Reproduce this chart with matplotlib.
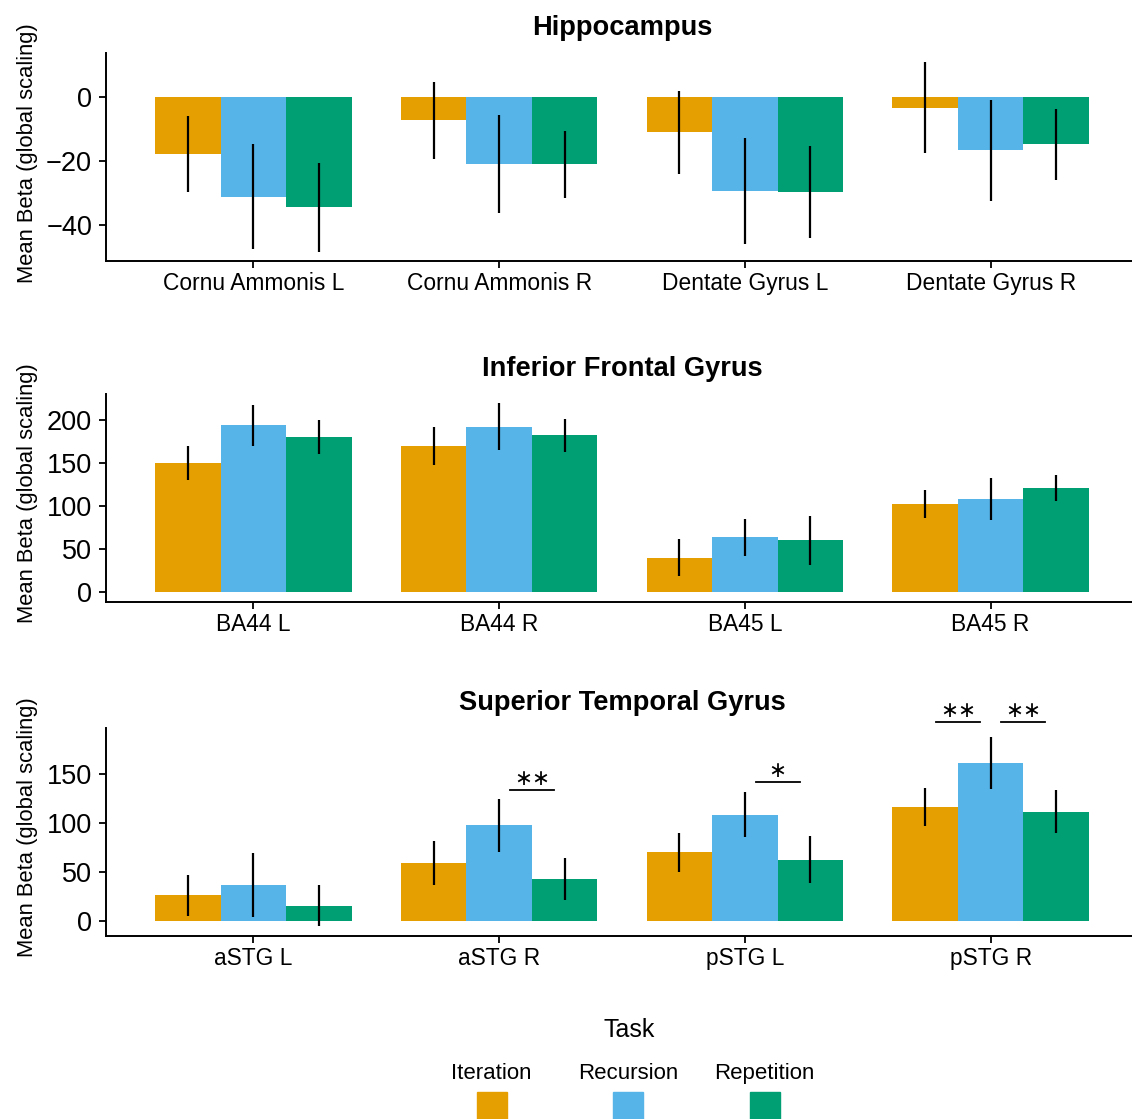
import numpy as np
import matplotlib
matplotlib.use("Agg")
import matplotlib.pyplot as plt
from matplotlib.patches import Rectangle

plt.rcParams['font.family'] = ['Liberation Sans', 'DejaVu Sans']

tasks = ["Iteration", "Recursion", "Repetition"]
task_colors = ["#E69F00", "#56B4E9", "#009E73"]

# Hippocampus
hip_regions = ["Cornu Ammonis L", "Cornu Ammonis R", "Dentate Gyrus L", "Dentate Gyrus R"]
hip_iter = [-17.7, -7.2, -11.0, -3.2]
hip_rec = [-31.2, -21.0, -29.5, -16.7]
hip_rep = [-34.6, -21.0, -29.8, -14.8]
hip_iter_err = [12.0, 12.1, 13.0, 14.2]
hip_rec_err = [16.4, 15.4, 16.6, 15.8]
hip_rep_err = [13.9, 10.5, 14.5, 11.2]

# Inferior frontal gyrus
ifg_regions = ["BA44 L", "BA44 R", "BA45 L", "BA45 R"]
ifg_iter = [150.0, 169.4, 40.2, 102.5]
ifg_rec = [193.4, 192.0, 63.6, 107.6]
ifg_rep = [180.0, 181.9, 60.0, 120.9]
ifg_iter_err = [19.7, 22.3, 21.3, 16.3]
ifg_rec_err = [23.5, 27.1, 21.5, 24.2]
ifg_rep_err = [19.8, 19.0, 27.9, 15.1]

# Superior temporal gyrus
stg_regions = ["aSTG L", "aSTG R", "pSTG L", "pSTG R"]
stg_iter = [25.7, 58.6, 69.7, 116.0]
stg_rec = [36.6, 97.4, 108.4, 161.1]
stg_rep = [15.4, 42.4, 62.4, 111.2]
stg_iter_err = [20.7, 22.5, 20.3, 19.7]
stg_rec_err = [32.8, 27.4, 23.3, 26.5]
stg_rep_err = [21.2, 21.2, 23.9, 21.9]

# significance brackets in the STG panel
sig_region = [1, 2, 3, 3]
sig_from = [1, 1, 0, 1]
sig_to = [2, 2, 1, 2]
sig_y = [133.6, 142.1, 203.0, 203.0]
sig_labels = ["**", "*", "**", "**"]

panels = [
    ("Hippocampus", hip_regions, [hip_iter, hip_rec, hip_rep],
     [hip_iter_err, hip_rec_err, hip_rep_err], [-40, -20, 0]),
    ("Inferior Frontal Gyrus", ifg_regions, [ifg_iter, ifg_rec, ifg_rep],
     [ifg_iter_err, ifg_rec_err, ifg_rep_err], [0, 50, 100, 150, 200]),
    ("Superior Temporal Gyrus", stg_regions, [stg_iter, stg_rec, stg_rep],
     [stg_iter_err, stg_rec_err, stg_rep_err], [0, 50, 100, 150]),
]

W, H = 1132, 1119
fig = plt.figure(figsize=(W / 100, H / 100), dpi=100)

bar_w = 0.8 / 3
offsets = (np.arange(3) - 1) * bar_w
panel_bottoms = [261, 601.7, 935.7]
panel_h = 208

axes = []
for (title, regions, means, errs, yticks), pb in zip(panels, panel_bottoms):
    ax = fig.add_axes([106 / W, 1 - pb / H, 1032 / W, panel_h / H])
    x = np.arange(1, len(regions) + 1)
    lo, hi = 0.0, 0.0
    for i in range(3):
        m = np.array(means[i])
        e = np.array(errs[i])
        ax.bar(x + offsets[i], m, width=bar_w, color=task_colors[i], linewidth=0)
        ax.errorbar(x + offsets[i], m, yerr=e, fmt='none', ecolor='black',
                    elinewidth=1.6, capsize=0, zorder=3)
        lo = min(lo, (m - e).min())
        hi = max(hi, (m + e).max())
    pad = 0.05 * (hi - lo)
    ax.set_ylim(lo - pad, hi + pad)
    ax.set_xlim(0.4, len(regions) + 0.6)
    ax.set_xticks(x)
    ax.set_xticklabels(regions)
    ax.set_yticks(yticks)
    for s in ['top', 'right']:
        ax.spines[s].set_visible(False)
    for s in ['left', 'bottom']:
        ax.spines[s].set_linewidth(1.4)
    ax.tick_params(axis='y', labelsize=19.5, length=5, width=1.3, pad=5)
    ax.tick_params(axis='x', labelsize=16.4, length=5, width=1.3, pad=3)
    ax.set_ylabel("Mean Beta (global scaling)", fontsize=15.8)
    ax.yaxis.set_label_coords(-0.066, 0.52)
    ax.set_title(title, fontsize=19.6, fontweight='bold', pad=13)
    axes.append(ax)

# significance marks
ax = axes[2]
margin = 0.044
for g, a, b, y, lab in zip(sig_region, sig_from, sig_to, sig_y, sig_labels):
    x0 = g + 1 + offsets[a] + margin
    x1 = g + 1 + offsets[b] - margin
    ax.plot([x0, x1], [y, y], color='black', lw=1.3, clip_on=False)
    ax.annotate(lab.replace("*", "\u2217"), ((x0 + x1) / 2, y), xytext=(0, 8),
                textcoords='offset points', ha='center', va='center',
                fontsize=15.5, family='DejaVu Sans', annotation_clip=False)

# legend
fig.text(629 / W, 1 - 1030 / H, "Task", ha='center', va='center', fontsize=18)
key_step = 136.5
for i, (t, c) in enumerate(zip(tasks, task_colors)):
    cx = 628 + (i - 1) * key_step
    fig.text(cx / W, 1 - 1079 / H, t, ha='center', va='baseline', fontsize=16)
    fig.patches.append(Rectangle(((cx - 15) / W, 1 - 1122 / H), 30 / W, 30 / H,
                                 transform=fig.transFigure, color=c))

fig.savefig("out.png", dpi=100)
